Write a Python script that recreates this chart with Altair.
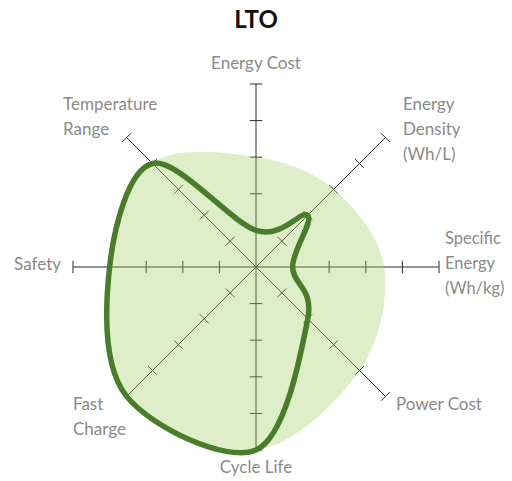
import altair as alt
import pandas as pd

axes_names = ["Energy Cost", "Energy Density (Wh/L)", "Specific Energy (Wh/kg)", "Power Cost",
              "Cycle Life", "Fast Charge", "Safety", "Temperature Range"]
angles_deg = [0, 45, 90, 135, 180, 225, 270, 315]
fill_values = [3, 3, 3.5, 4, 5, 5, 4, 4]
line_values = [1, 2, 1, 2, 5, 5, 4, 4]
tick_levels = [1, 2, 3, 4, 5]
r_max = 5

FILL = "#a1ce62"
LINE = "#4a7d2b"
AXIS = "#2b2b2b"
TXT = "#8a8a8a"
FONT = "Lato"

def polar_df(values, name):
    return pd.DataFrame({"axis": axes_names, "angle": angles_deg, "r": values,
                         "order": list(range(len(values))), "series": name})

fill_df = polar_df(fill_values, "fill")
line_df = polar_df(line_values, "line")
spoke_df = pd.DataFrame({"axis": axes_names, "angle": angles_deg, "r": [r_max] * len(axes_names)})
tick_rows = []
for a, ang in zip(axes_names, angles_deg):
    for t in tick_levels:
        tick_rows.append({"axis": a, "angle": ang, "r": t})
tick_df = pd.DataFrame(tick_rows)

W = 366
xs = alt.Scale(domain=[-r_max, r_max], nice=False, zero=False)
ys = alt.Scale(domain=[-r_max, r_max], nice=False, zero=False)

def xy(ch):
    return ch.transform_calculate(
        px="datum.r * sin(datum.angle * PI / 180)",
        py="datum.r * cos(datum.angle * PI / 180)")

X = alt.X("px:Q", scale=xs, axis=None)
Y = alt.Y("py:Q", scale=ys, axis=None)

spokes = alt.Chart(spoke_df).mark_rule(color=AXIS, strokeWidth=1).transform_calculate(
    px="0", py="0",
    px2="datum.r * sin(datum.angle * PI / 180)",
    py2="datum.r * cos(datum.angle * PI / 180)"
).encode(x=X, y=Y, x2="px2:Q", y2="py2:Q")

h = 0.17
ticks = alt.Chart(tick_df).mark_rule(color=AXIS, strokeWidth=1).transform_calculate(
    px=f"datum.r * sin(datum.angle * PI / 180) - {h} * cos(datum.angle * PI / 180)",
    py=f"datum.r * cos(datum.angle * PI / 180) + {h} * sin(datum.angle * PI / 180)",
    px2=f"datum.r * sin(datum.angle * PI / 180) + {h} * cos(datum.angle * PI / 180)",
    py2=f"datum.r * cos(datum.angle * PI / 180) - {h} * sin(datum.angle * PI / 180)"
).encode(x=X, y=Y, x2="px2:Q", y2="py2:Q")

fill_shape = xy(alt.Chart(fill_df)).mark_line(
    interpolate="cardinal-closed", fill=FILL, fillOpacity=0.35, strokeOpacity=0, strokeWidth=0
).encode(x=X, y=Y, order="order:Q")

outline = xy(alt.Chart(line_df)).mark_line(
    interpolate="cardinal-closed", color=LINE, strokeWidth=5.5, strokeJoin="round"
).encode(x=X, y=Y, order="order:Q")

# label layout (pixel positions of the first line, relative to plot area)
label_layout = [
    ("Energy Cost", 183, -20, "center", 17),
    ("Energy\nDensity\n(Wh/L)", 330, 21, "left", 17),
    ("Specific\nEnergy\n(Wh/kg)", 372, 155, "left", 16.5),
    ("Power Cost", 323, 321, "left", 17),
    ("Cycle Life", 183, 384, "center", 17),
    ("Fast\nCharge", 0, 321, "left", 17),
    ("Safety", -12, 181, "right", 17),
    ("Temperature\nRange", -10, 21, "left", 17),
]
label_layers = []
for text, lx, ly, al, fs in label_layout:
    label_layers.append(
        alt.Chart(pd.DataFrame({"t": [text]})).mark_text(
            align=al, baseline="middle", font=FONT, fontSize=fs, color=TXT,
            lineBreak="\n", lineHeight=25
        ).encode(x=alt.value(lx), y=alt.value(ly), text="t:N")
    )

chart = alt.layer(spokes, ticks, fill_shape, outline, *label_layers).properties(
    width=W, height=W,
    title=alt.TitleParams("LTO", font=FONT, fontSize=24, fontWeight="bold", color="#111111",
                          anchor="middle", offset=22),
    autosize=alt.AutoSizeParams(type="none"),
    padding={"left": 65, "top": 76, "right": 65, "bottom": 30},
).configure_view(stroke=None)

chart.save("out.html", embed_options={"renderer": "svg", "actions": False})
